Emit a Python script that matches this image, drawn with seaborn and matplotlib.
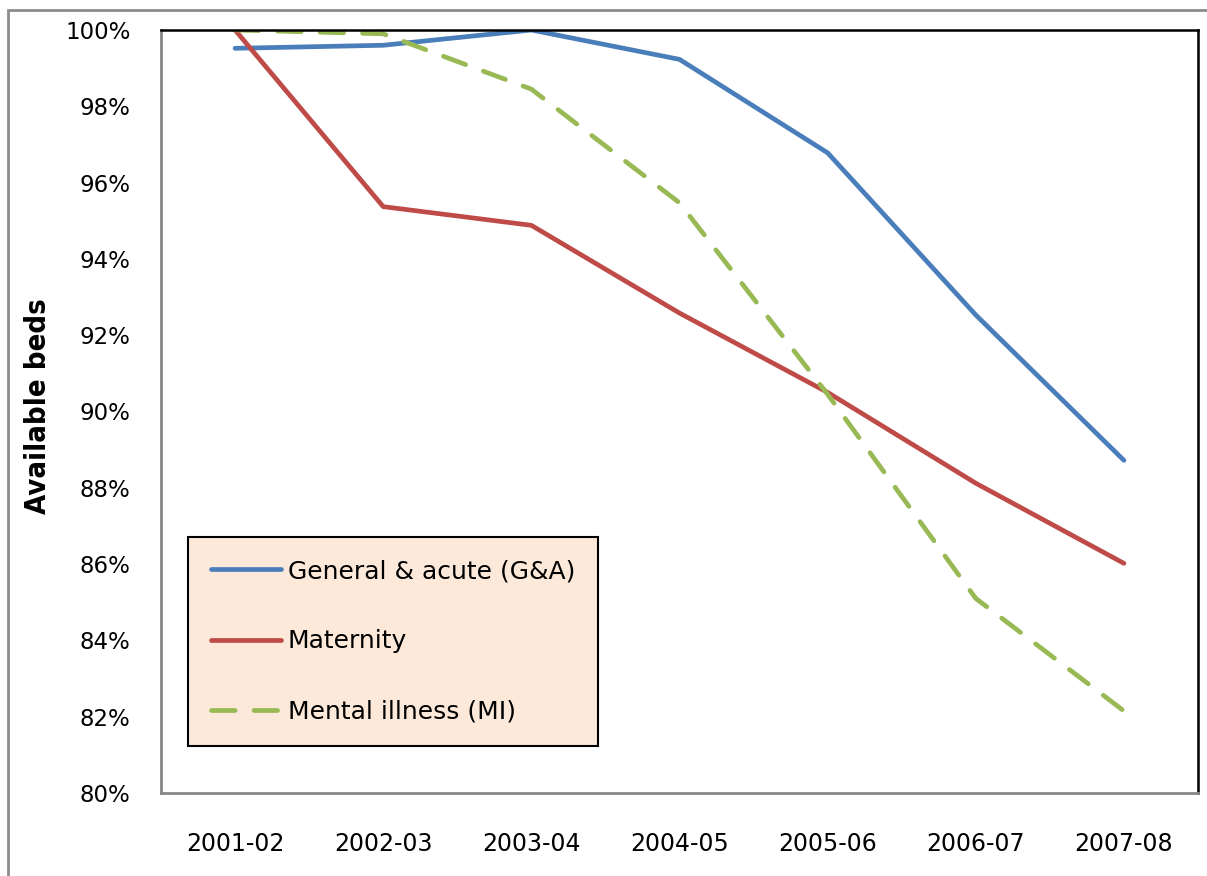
import pandas as pd
import seaborn as sns
import matplotlib.pyplot as plt
from matplotlib.patches import Rectangle
from matplotlib.ticker import PercentFormatter

years = ["2001-02", "2002-03", "2003-04", "2004-05", "2005-06", "2006-07", "2007-08"]
general_acute = [99.52, 99.6, 100.0, 99.23, 96.78, 92.53, 88.72]
maternity = [100.0, 95.37, 94.88, 92.58, 90.5, 88.12, 86.02]
mental_illness = [100.0, 99.9, 98.45, 95.47, 90.45, 85.1, 82.15]

names = ["General & acute (G&A)", "Maternity", "Mental illness (MI)"]
colors = ["#4A7EBB", "#BE4B48", "#98B954"]

df = pd.DataFrame({
    "year": years * 3,
    "value": general_acute + maternity + mental_illness,
    "series": [n for n in names for _ in years],
})

sns.set_style("white")
plt.rcParams["font.family"] = ["DejaVu Sans"]
plt.rcParams["text.color"] = "black"
plt.rcParams["xtick.color"] = "black"
plt.rcParams["ytick.color"] = "black"
plt.rcParams["axes.labelcolor"] = "black"

fig = plt.figure(figsize=(12.07, 8.76), dpi=100)
ax = fig.add_axes([161 / 1207, 1 - 793 / 876, 1037 / 1207, 763 / 876])

sns.lineplot(data=df, x="year", y="value", hue="series", style="series",
             palette=dict(zip(names, colors)),
             dashes={names[0]: "", names[1]: "", names[2]: (5.0, 4.0)},
             lw=3.4, legend=False, ax=ax)

for ln in ax.get_lines():
    ln.set_solid_capstyle("round")
    ln.set_dash_capstyle("round")
    ln.set_solid_joinstyle("round")

ax.set_xlim(-0.5, 6.5)
ax.set_ylim(80, 100)
ax.set_yticks(range(80, 101, 2))
ax.yaxis.set_major_formatter(PercentFormatter(decimals=0))
ax.tick_params(axis="y", length=0, pad=22, labelsize=16.5, labelcolor="black")
ax.tick_params(axis="x", length=0, pad=28, labelsize=17, labelcolor="black")
ax.set_xlabel("")
ax.set_ylabel("Available beds", fontsize=21, fontweight="bold",
              fontstretch="condensed", color="black")
ax.yaxis.set_label_coords((52 - 161) / 1037, (793 - 406) / 763)

for side in ["top", "right"]:
    ax.spines[side].set_color("black")
    ax.spines[side].set_linewidth(1.8)
for side in ["left", "bottom"]:
    ax.spines[side].set_color("#878787")
    ax.spines[side].set_linewidth(2)

leg = ax.legend(ax.get_lines(), names, loc="lower left",
                bbox_to_anchor=(27 / 1037, 47 / 763), borderaxespad=0,
                fontsize=18, frameon=True, fancybox=False,
                handlelength=2.8, handletextpad=0.3, labelspacing=1.85,
                borderpad=0.9)
frame = leg.get_frame()
frame.set_facecolor("#FDE9D9")
frame.set_edgecolor("black")
frame.set_linewidth(1.5)
frame.set_alpha(1)

# outer chart border
fig.add_artist(Rectangle((8 / 1207, -0.1), 1.2, 1.1 - 10 / 876,
                         transform=fig.transFigure, fill=False,
                         edgecolor="#8C8C8C", lw=2))

fig.savefig("out.png", dpi=100)
